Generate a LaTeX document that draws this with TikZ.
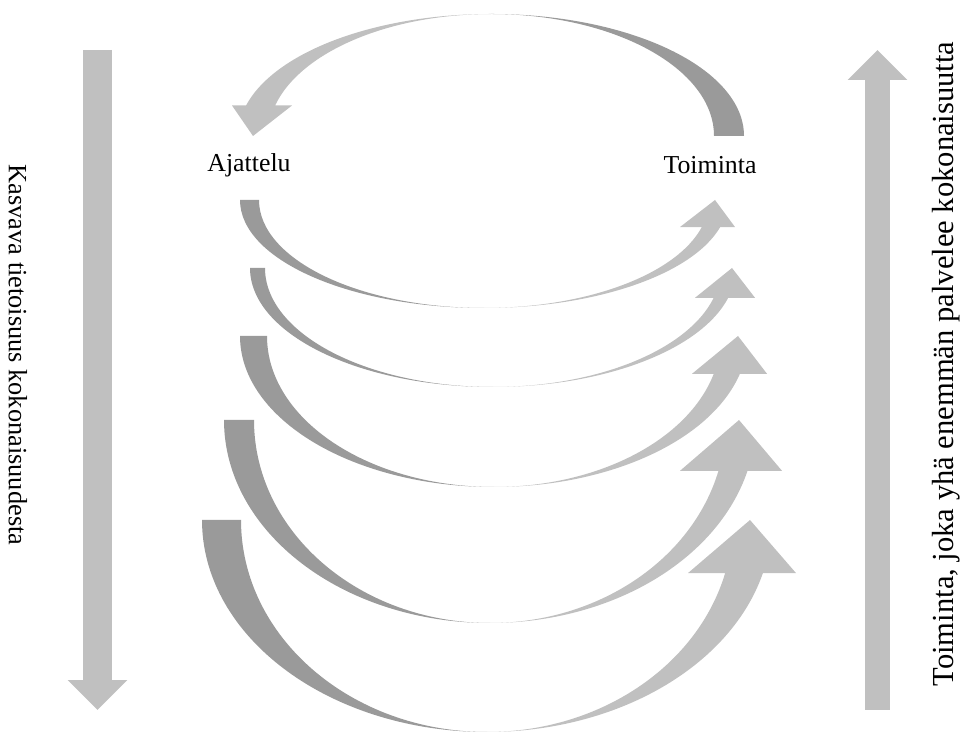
\documentclass[tikz,border=0pt]{standalone}
\usepackage{fontspec}
\setmainfont{Liberation Serif}
\usepackage{tikz}
\usetikzlibrary{arrows.meta}
\definecolor{bandgray}{RGB}{154, 154, 154}
\definecolor{headgray}{RGB}{192, 192, 192}

\begin{document}
\begin{tikzpicture}[x=0.02cm, y=0.02cm,
    darkband/.style={fill=bandgray},
    lightband/.style={fill=headgray},
    sidearrow/.style={draw=headgray, line width=0.58cm,
        -{Triangle[width=1.16cm, length=0.6cm]}},
    label/.style={font=\fontsize{14.7}{17}\selectfont, inner sep=0pt},
    sidetext/.style={inner sep=0pt}]
    \useasboundingbox (0,0) rectangle (963,733);

    % top arc: Toiminta back to Ajattelu
    \fill[darkband] (744,597) arc[start angle=0, end angle=90, x radius=253, y radius=122]
        arc[start angle=90, end angle=0, x radius=223, y radius=122] -- cycle;
    \fill[lightband] (491,719) arc[start angle=90, end angle=165.5, x radius=253, y radius=122]
        -- (232,627.5) -- (253,597) -- (292,627.5) -- ({491-223*cos(14.5)},627.5)
        arc[start angle=165.5, end angle=90, x radius=223, y radius=122] -- cycle;

    % the widening loops from Ajattelu to Toiminta
    \foreach \cx/\yc/\ry/\ro/\ri/\hl/\hr/\tx in {
        484/533/108/244/225/680/735/715,
        493/465/119/243/228/695/755/732,
        494/397/151/254/227/692/767/738,
        490/313/203/266/236/680/782/739,
        487/213/212/285/246/688/796/750} {
        \fill[darkband] ({\cx-\ro},\yc) arc[start angle=180, end angle=270, x radius=\ro, y radius=\ry]
            arc[start angle=270, end angle=180, x radius=\ri, y radius=\ry] -- cycle;
        \fill[lightband] (\cx,{\yc-\ry}) arc[start angle=270, end angle=345.5, x radius=\ro, y radius=\ry]
            -- (\hr,{\yc-\ry*sin(14.5)}) -- (\tx,\yc) -- (\hl,{\yc-\ry*sin(14.5)})
            -- ({\cx+\ri*cos(14.5)},{\yc-\ry*sin(14.5)})
            arc[start angle=345.5, end angle=270, x radius=\ri, y radius=\ry] -- cycle;
    }

    \node[label] (ajattelu) at (249,568) {Ajattelu};
    \node[label] (toiminta) at (710,568) {Toiminta};

    % side arrows
    \coordinate (tietoisuustop) at (97.5,683);
    \coordinate (tietoisuusbot) at (97.5,23);
    \draw[sidearrow] (tietoisuustop) -- (tietoisuusbot);
    \coordinate (palveleebot) at (877.5,23);
    \coordinate (palveleetop) at (877.5,683);
    \draw[sidearrow, line width=0.5cm] (palveleebot) -- (palveleetop);

    \node[sidetext, rotate=-90, font=\fontsize{15}{18}\selectfont] (tietoisuus) at (18,378)
        {Kasvava tietoisuus kokonaisuudesta};
    \node[sidetext, rotate=90, font=\fontsize{17.4}{20}\selectfont] (palvelee) at (946,369)
        {Toiminta, joka yhä enemmän palvelee kokonaisuutta};
\end{tikzpicture}
\end{document}
